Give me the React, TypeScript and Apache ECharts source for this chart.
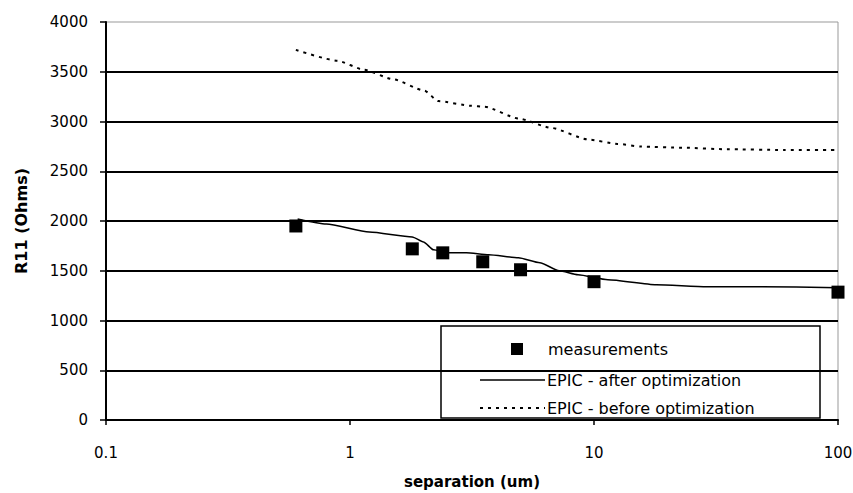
import React, { useEffect, useRef } from "react";
import * as echarts from "echarts";

const measX = [0.6, 1.8, 2.4, 3.5, 5, 10, 100];
const measY = [1950, 1720, 1680, 1590, 1510, 1390, 1285];

const afterX = [0.61, 0.8, 1.2, 1.8, 2.0, 2.2, 2.5, 3.0, 3.7, 4.9, 6.0, 7.2, 8.6, 11.4, 18, 29, 47, 100];
const afterY = [2020, 1970, 1890, 1840, 1790, 1710, 1680, 1680, 1660, 1630, 1580, 1500, 1460, 1410, 1360, 1340, 1340, 1330];

const beforeX = [0.6, 0.89, 1.14, 1.5, 2.02, 2.3, 3.14, 3.56, 4.9, 6.7, 9.4, 12.5, 15.6, 23, 35, 60, 100];
const beforeY = [3720, 3610, 3520, 3425, 3310, 3205, 3158, 3149, 3030, 2935, 2820, 2775, 2748, 2737, 2721, 2714, 2714];

const xTickLabels = ["0.1", "1", "10", "100"];
const legendNames = ["measurements", "EPIC - after optimization", "EPIC - before optimization"];
const xName = "separation (um)";
const yName = "R11 (Ohms)";

const FONT = "DejaVu Sans";

const zip = (xs: number[], ys: number[]) => xs.map((x, i) => [x, ys[i]]);

export default function App() {
  const ref = useRef<HTMLDivElement>(null);
  useEffect(() => {
    if (!ref.current) return;
    const chart = echarts.init(ref.current, undefined, { renderer: "svg" });
    const legX = 441, legY = 326, legW = 379, legH = 92;
    const rows = [349, 380, 408];
    chart.setOption({
      animation: false,
      backgroundColor: "#fff",
      grid: {
        left: 106, right: 15, top: 22, bottom: 73,
        containLabel: false, outerBoundsMode: "none",
        show: true, borderColor: "#999", borderWidth: 1,
      },
      xAxis: {
        type: "log", logBase: 10, min: 0.1, max: 100,
        name: xName, nameLocation: "middle", nameGap: 54,
        nameTextStyle: { fontFamily: FONT, fontWeight: "bold", fontSize: 15, color: "#000" },
        axisLine: { show: true, lineStyle: { color: "#000", width: 2 } },
        axisTick: { show: true, inside: false, length: 5, lineStyle: { color: "#000", width: 1.5 } },
        minorTick: { show: false },
        splitLine: { show: false },
        axisLabel: {
          fontFamily: FONT, fontSize: 15, color: "#000", margin: 25,
          formatter: (v: number) => {
            const i = Math.round(Math.log10(v)) + 1;
            return xTickLabels[i] ?? String(v);
          },
        },
      },
      yAxis: {
        type: "value", min: 0, max: 4000, interval: 500,
        name: yName, nameLocation: "middle", nameGap: 77,
        nameTextStyle: { fontFamily: FONT, fontWeight: "bold", fontSize: 16, color: "#000" },
        axisLine: { show: true, lineStyle: { color: "#000", width: 2 } },
        axisTick: { show: true, inside: false, length: 6, lineStyle: { color: "#000", width: 1.5 } },
        splitLine: { show: true, showMaxLine: false, lineStyle: { color: "#000", width: 2 } },
        axisLabel: {
          fontFamily: FONT, fontSize: 15, color: "#000", margin: 18,
          formatter: (v: number) => String(v),
        },
      },
      series: [
        {
          name: legendNames[2], type: "line", data: zip(beforeX, beforeY),
          showSymbol: false, symbol: "none", smooth: 0.2, smoothMonotone: "x",
          lineStyle: { color: "#000", width: 2, type: [3, 5] },
          z: 2,
        },
        {
          name: legendNames[1], type: "line", data: zip(afterX, afterY),
          showSymbol: false, symbol: "none", smooth: 0.2, smoothMonotone: "x",
          lineStyle: { color: "#000", width: 1.5, type: "solid" },
          z: 3,
        },
        {
          name: legendNames[0], type: "scatter", data: zip(measX, measY),
          symbol: "rect", symbolSize: 13,
          itemStyle: { color: "#000", opacity: 1 },
          z: 4,
        },
      ],
      graphic: [
        {
          type: "group", z: 100,
          children: [
            { type: "rect", shape: { x: legX, y: legY, width: legW, height: legH },
              style: { fill: "#fff", stroke: "#000", lineWidth: 1.5 } },
            { type: "rect", shape: { x: 511, y: rows[0] - 6, width: 12, height: 12 },
              style: { fill: "#000" } },
            { type: "line", shape: { x1: 480, y1: rows[1], x2: 545, y2: rows[1] },
              style: { stroke: "#000", lineWidth: 1.5 } },
            { type: "line", shape: { x1: 480, y1: rows[2], x2: 545, y2: rows[2] },
              style: { stroke: "#000", lineWidth: 2, lineDash: [3, 5] } },
            ...legendNames.map((t, i) => ({
              type: "text", x: i === 0 ? 548 : 547, y: rows[i],
              style: {
                text: t, font: `16px "${FONT}"`, fill: "#000",
                align: "left", verticalAlign: "middle",
                textAlign: "left", textVerticalAlign: "middle",
              },
            })),
          ],
        },
      ],
    });
    return () => chart.dispose();
  }, []);
  return <div ref={ref} style={{ width: 853, height: 493, position: "absolute", left: 0, top: 0 }} />;
}
